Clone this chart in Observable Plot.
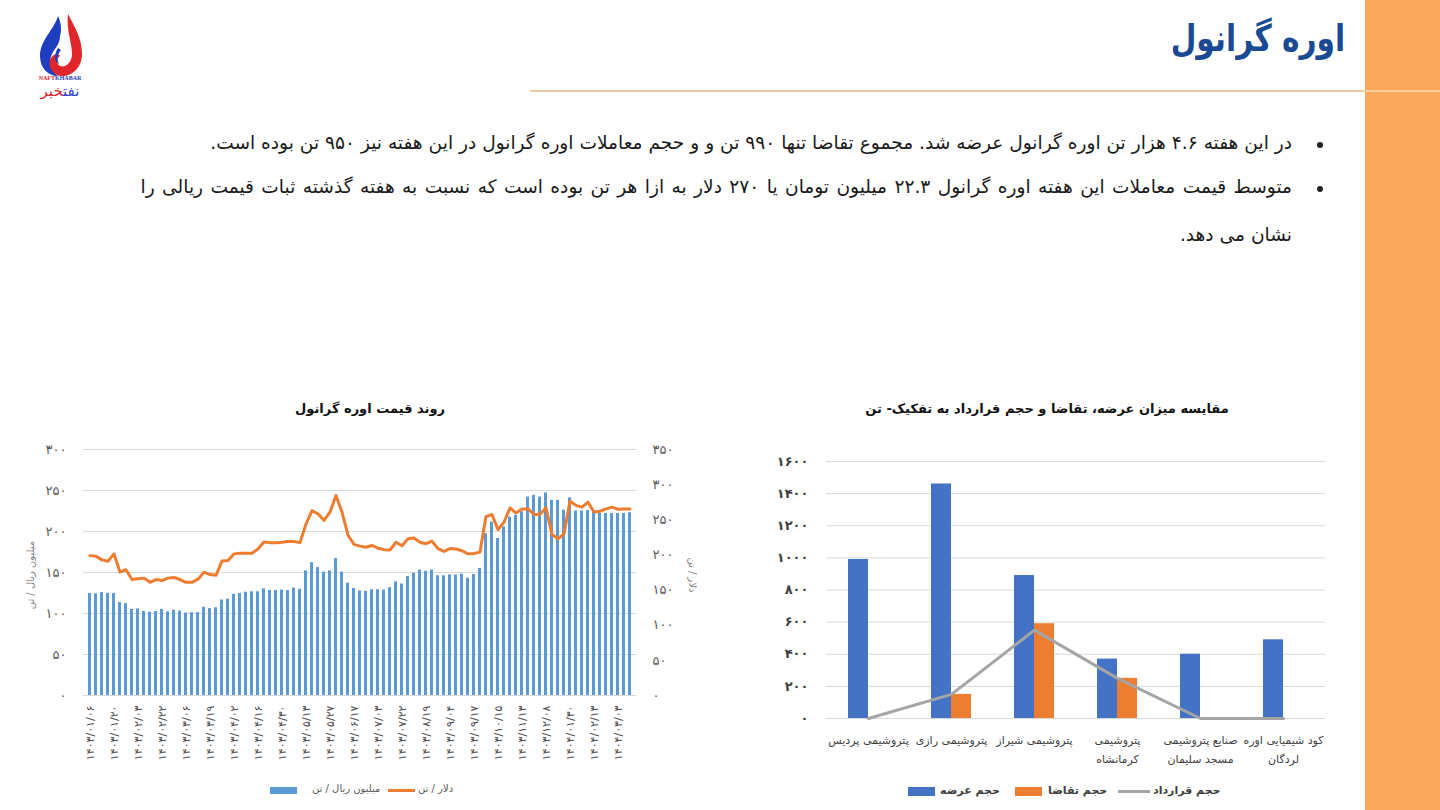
<!DOCTYPE html>
<html><head><meta charset="utf-8">
<script src="https://cdn.jsdelivr.net/npm/d3@7"></script>
<script src="https://cdn.jsdelivr.net/npm/@observablehq/plot@0.6"></script>
<style>
html,body{margin:0;padding:0;}
body{width:1440px;height:810px;position:relative;overflow:hidden;background:#fff;font-family:"DejaVu Sans",sans-serif;}
.abs{position:absolute;}
.bl{position:absolute;white-space:nowrap;direction:rtl;font-size:18.6px;color:#1a1a1a;}
.dot{position:absolute;width:6px;height:6px;border-radius:50%;background:#222;}
.ttl{position:absolute;font-weight:bold;font-size:13px;color:#111;white-space:nowrap;direction:rtl;transform:translateX(-50%);}
.lg{position:absolute;white-space:nowrap;direction:rtl;}
</style></head><body>

<div class="abs" style="left:1365px;top:0;width:75px;height:810px;background:#FAA85C"></div>
<div class="abs" style="left:1365px;top:90px;width:75px;height:2px;background:#FCCB9A"></div>
<div class="abs" style="left:530px;top:90px;width:835px;height:2px;background:#EBCBA2"></div>
<div class="abs" dir="rtl" style="right:95px;top:17px;font-size:37px;font-weight:bold;color:#1B4A94;white-space:nowrap;transform:scaleX(0.8);transform-origin:right center">اوره گرانول</div>

<svg class="abs" style="left:28px;top:10px" width="72" height="95" viewBox="0 0 72 95">
  <path d="M30,6 C26,20 12,30 12,46 C12,58 20,66 30,66 C22,60 20,52 24,44 C27,38 32,34 32,26 C34,20 33,12 30,6 Z" fill="#1E3DBF"/>
  <path d="M40,4 C46,16 54,28 54,44 C54,58 44,66 34,66 C26,66 20,58 22,50 C24,44 30,42 32,46 C28,48 28,54 32,56 C38,58 44,52 44,44 C44,32 38,20 40,4 Z" fill="#E0252B"/>
  <path d="M30,38 C26,44 26,52 31,54 C28,48 30,44 33,40 Z" fill="#1E3DBF"/>
  <text x="32" y="70" font-size="6" font-weight="bold" text-anchor="middle" font-family="Liberation Serif"><tspan fill="#E0252B">NAFT</tspan><tspan fill="#1E3DBF">KHABAR</tspan></text>
  <text x="32" y="86" font-size="15" text-anchor="middle" direction="rtl" font-family="DejaVu Sans"><tspan fill="#2B3FD0">نفت</tspan><tspan fill="#E0252B">خبر</tspan></text>
</svg>

<div class="dot" style="left:1317px;top:142px"></div>
<div class="bl" style="right:148px;top:132px">در این هفته ۴.۶ هزار تن اوره گرانول عرضه شد. مجموع تقاضا تنها ۹۹۰ تن و و حجم معاملات اوره گرانول در این هفته نیز ۹۵۰ تن بوده است.</div>
<div class="dot" style="left:1317px;top:186px"></div>
<div class="bl" style="right:148px;top:176px;word-spacing:1.5px">متوسط قیمت معاملات این هفته اوره گرانول ۲۲.۳ میلیون تومان یا ۲۷۰ دلار به ازا هر تن بوده است که نسبت به هفته گذشته ثبات قیمت ریالی را</div>
<div class="bl" style="right:148px;top:224px">نشان می دهد.</div>

<div class="ttl" style="left:370px;top:401px">روند قیمت اوره گرانول</div>
<div class="ttl" style="left:1047px;top:401px">مقایسه میزان عرضه، تقاضا و حجم قرارداد به تفکیک-  تن</div>

<div id="leftChart" class="abs" style="left:0;top:430px"></div>
<div id="rightChart" class="abs" style="left:740px;top:430px"></div>

<div class="abs" style="left:30px;top:575px;transform:translate(-50%,-50%) rotate(-90deg);font-size:10px;color:#7f7f7f;white-space:nowrap;direction:rtl">میلیون ریال / تن</div>
<div class="abs" style="left:692px;top:575px;transform:translate(-50%,-50%) rotate(90deg);font-size:10px;color:#7f7f7f;white-space:nowrap;direction:rtl">دلار / تن</div>

<div class="abs" style="left:270px;top:787px;width:27px;height:7px;background:#5B9BD5"></div>
<div class="lg" style="left:312px;top:783px;font-size:10px;color:#595959">میلیون ریال / تن</div>
<div class="abs" style="left:388px;top:789px;width:27px;height:3px;background:#ED7D31"></div>
<div class="lg" style="left:418px;top:783px;font-size:10px;color:#595959">دلار / تن</div>

<div class="abs" style="left:908px;top:787px;width:27px;height:9px;background:#4472C4"></div>
<div class="lg" style="left:940px;top:784px;font-size:11px;font-weight:bold;color:#404040">حجم عرضه</div>
<div class="abs" style="left:1015px;top:787px;width:27px;height:9px;background:#ED7D31"></div>
<div class="lg" style="left:1048px;top:784px;font-size:11px;font-weight:bold;color:#404040">حجم تقاضا</div>
<div class="abs" style="left:1118px;top:790px;width:32px;height:3px;background:#A5A5A5"></div>
<div class="lg" style="left:1153px;top:784px;font-size:11px;font-weight:bold;color:#404040">حجم قرارداد</div>

<script>
// ---- Left chart data: weekly urea granule price ----
const tickLabels = ["۱۴۰۳/۰۱/۰۶","۱۴۰۳/۰۱/۲۰","۱۴۰۳/۰۲/۰۳","۱۴۰۳/۰۲/۲۲","۱۴۰۳/۰۳/۰۶","۱۴۰۳/۰۳/۱۹","۱۴۰۳/۰۴/۰۲","۱۴۰۳/۰۴/۱۶","۱۴۰۳/۰۴/۳۰","۱۴۰۳/۰۵/۱۳","۱۴۰۳/۰۵/۲۷","۱۴۰۳/۰۶/۱۷","۱۴۰۳/۰۷/۰۳","۱۴۰۳/۰۷/۲۲","۱۴۰۳/۰۸/۱۹","۱۴۰۳/۰۹/۰۴","۱۴۰۳/۰۹/۱۷","۱۴۰۳/۱۰/۱۵","۱۴۰۳/۱۱/۱۳","۱۴۰۳/۱۲/۰۸","۱۴۰۴/۰۱/۳۰","۱۴۰۴/۰۲/۱۳","۱۴۰۴/۰۳/۰۳"];
const rialPrice = [124.5,124,125.5,124.5,124.5,113.5,112,105,105.5,102.5,
101.5,102.5,105,102,104,103,100.5,101,101,107.5,
106,107,116.5,117.5,123.5,124.5,126,126.5,126.5,130,
128,128,128.5,128,131,129.5,152,162,156,150.5,
152,167,150.5,137,130.5,127.5,127,129,129,128.5,
131.5,138.5,136,145,149,153,151.5,153,146,146,
147,147,148,143,147.5,155,197.5,211.5,191.5,205.5,
217.5,219.5,224,242,244,242,247,238,238,226,
241,225,225,225.5,225.5,222,222,222,222,222,223];
const dollarPrice = [199,198,193,191,201.5,175.5,179,165,166,167,
161,165,163.5,167,168,165,161,161,165.5,175.5,
172,171,191.5,192,201.5,202.5,202.5,202.5,208.5,218.5,
217.5,217.5,218,219,219,217.5,244,263,258.5,249,
261,284.5,261,228,215,212.5,211,213.5,209.5,207.5,
207,218,213,223,224,218,216,219.5,209,205,
209,208.5,206,201.5,202,204,254.5,257.5,236,246.5,
267,259.5,265.5,265.5,257.5,258,267,229,223,230,
276.5,270.5,268,275,261,262,265.5,268,265,265.5,265.5];
const leftTicks = [0,50,100,150,200,250,300];
const rightTicks = [0,50,100,150,200,250,300,350];

// ---- Right chart data: supply / demand / contract by producer (ton) ----
const categories = ["پتروشیمی پردیس","پتروشیمی رازی","پتروشیمی شیراز","پتروشیمی کرمانشاه","صنایع پتروشیمی مسجد سلیمان","کود شیمیایی اوره لردگان"];
const categoryLabels = ["پتروشیمی پردیس","پتروشیمی رازی","پتروشیمی شیراز","پتروشیمی\nکرمانشاه","صنایع پتروشیمی\nمسجد سلیمان","کود شیمیایی اوره\nلردگان"];
const supply = [990,1460,890,370,400,490];
const demand = [0,150,590,250,0,0];
const contract = [0,150,550,250,0,0];
const volumeTicks = [0,200,400,600,800,1000,1200,1400,1600];

const fa = s => String(s).replace(/\d/g, d => "۰۱۲۳۴۵۶۷۸۹"[d]);
const font = "DejaVu Sans";

// Left chart
const n = rialPrice.length;
const idx = d3.range(n);
const k = leftTicks[leftTicks.length-1] / rightTicks[rightTicks.length-1];
const left = Plot.plot({
  width: 720, height: 345,
  marginLeft: 83, marginRight: 84, marginTop: 19, marginBottom: 80,
  style: {fontFamily: font, background: "transparent", overflow: "visible"},
  x: {type: "band", domain: idx, padding: 0.58, axis: null},
  y: {domain: [0, 300], axis: null},
  marks: [
    Plot.gridY(leftTicks, {stroke: "#D9D9D9", strokeOpacity: 1}),
    Plot.barY(idx, {x: i => i, y: i => rialPrice[i], fill: "#5B9BD5"}),
    Plot.lineY(idx, {x: i => i, y: i => dollarPrice[i] * k, stroke: "#ED7D31", strokeWidth: 3, strokeLinejoin: "round"}),
    Plot.axisY(leftTicks, {anchor: "left", tickSize: 0, tickPadding: 17, tickFormat: fa, fontSize: 13, fill: "#595959", label: null}),
    Plot.axisY(rightTicks.map(v => v * k), {anchor: "right", tickSize: 0, tickPadding: 16, tickFormat: v => fa(Math.round(v / k)), fontSize: 13, fill: "#595959", label: null}),
    Plot.axisX(idx.filter(i => i % 4 === 0), {tickRotate: -90, tickSize: 0, tickPadding: 10, tickFormat: i => tickLabels[i / 4], fontSize: 11, fill: "#4d4d4d", label: null})
  ]
});
document.getElementById("leftChart").appendChild(left);

// Right chart
const right = Plot.plot({
  width: 620, height: 350,
  marginLeft: 86, marginRight: 35, marginTop: 31, marginBottom: 62,
  style: {fontFamily: font, background: "transparent", overflow: "visible"},
  x: {domain: categories, paddingInner: 0.52, paddingOuter: 0.26, axis: null},
  y: {domain: [0, 1600], axis: null},
  marks: [
    Plot.gridY(volumeTicks, {stroke: "#D9D9D9", strokeOpacity: 1}),
    Plot.barY(categories, {x: d => d, y: (d, i) => supply[i], fill: "#4472C4", insetRight: 20}),
    Plot.barY(categories, {x: d => d, y: (d, i) => demand[i], fill: "#ED7D31", insetLeft: 20}),
    Plot.line(categories, {x: d => d, y: (d, i) => contract[i], stroke: "#A5A5A5", strokeWidth: 3}),
    Plot.axisY(volumeTicks, {tickSize: 0, tickPadding: 18, tickFormat: fa, fontSize: 13, fill: "#404040", fontWeight: "bold", label: null}),
    Plot.axisX(categories, {tickSize: 0, tickPadding: 12, tickFormat: (d) => categoryLabels[categories.indexOf(d)], fontSize: 11, fill: "#404040", lineHeight: 1.75, label: null})
  ]
});
document.getElementById("rightChart").appendChild(right);
</script>
</body></html>
